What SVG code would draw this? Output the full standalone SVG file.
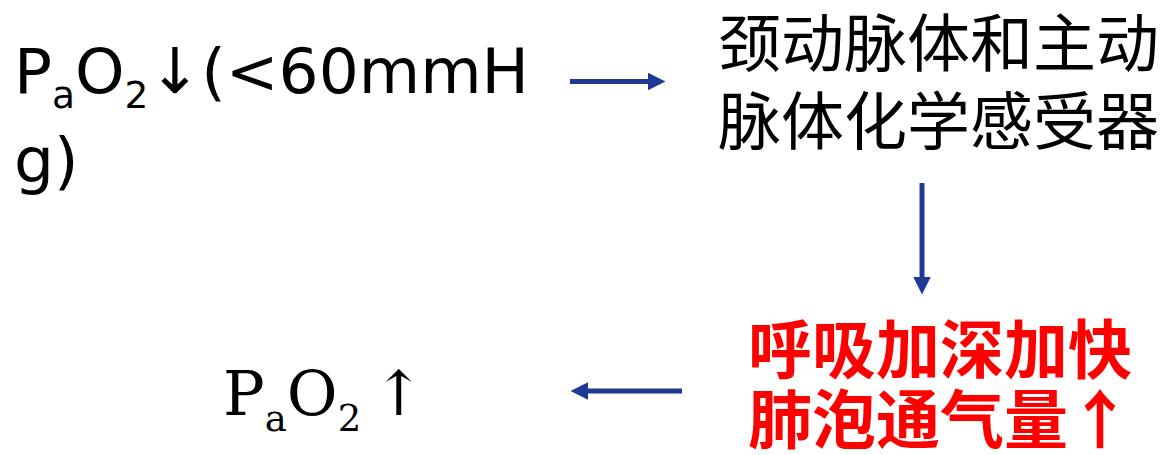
<svg xmlns="http://www.w3.org/2000/svg" width="1167" height="455" viewBox="0 0 1167 455">
<style>
.sans{font-family:"DejaVu Sans",sans-serif;fill:#000}
.cjk{font-family:"Noto Sans CJK SC",sans-serif;font-size:63px;fill:#000}
.red{font-family:"Noto Sans CJK SC",sans-serif;font-size:64px;font-weight:bold;fill:#ff0000}
.serif{font-family:"DejaVu Serif",serif;fill:#000}
.conn{stroke:#1e3a94;stroke-width:5;fill:none}
</style>
<defs>
<marker id="ah" viewBox="0 0 10 10" refX="0" refY="5" markerWidth="3.5" markerHeight="3.5" markerUnits="strokeWidth" orient="auto">
<path d="M0,0 L10,5 L0,10 z" fill="#1e3a94"/>
</marker>
</defs>
<rect width="1167" height="455" fill="#fff"/>
<g id="node-pao2-low">
<text class="sans" font-size="63"><tspan x="14" y="93">P</tspan><tspan font-size="37.5" y="108">a</tspan><tspan y="93">O</tspan><tspan font-size="37.5" y="108">2</tspan><tspan y="93">↓(&lt;60mmH</tspan></text>
<text class="sans" font-size="63" x="14" y="182">g)</text>
</g>
<g id="node-receptor">
<text class="cjk" x="718" y="66">颈动脉体和主动</text>
<text class="cjk" x="718" y="144">脉体化学感受器</text>
</g>
<g id="node-breath">
<text class="red" x="748" y="373">呼吸加深加快</text>
<text class="red" x="748" y="443">肺泡通气量↑</text>
</g>
<g id="node-pao2-up">
<text class="serif" font-size="62"><tspan x="223" y="415">P</tspan><tspan font-size="37" y="431">a</tspan><tspan y="415">O</tspan><tspan font-size="37" y="431">2</tspan><tspan x="373" y="415">↑</tspan></text>
</g>
<g id="connectors">
<line class="conn" x1="570" y1="81.5" x2="648" y2="81.5" marker-end="url(#ah)"/>
<line class="conn" x1="922" y1="183" x2="922" y2="277" marker-end="url(#ah)"/>
<line class="conn" x1="682" y1="391" x2="588" y2="391" marker-end="url(#ah)"/>
</g>
</svg>
